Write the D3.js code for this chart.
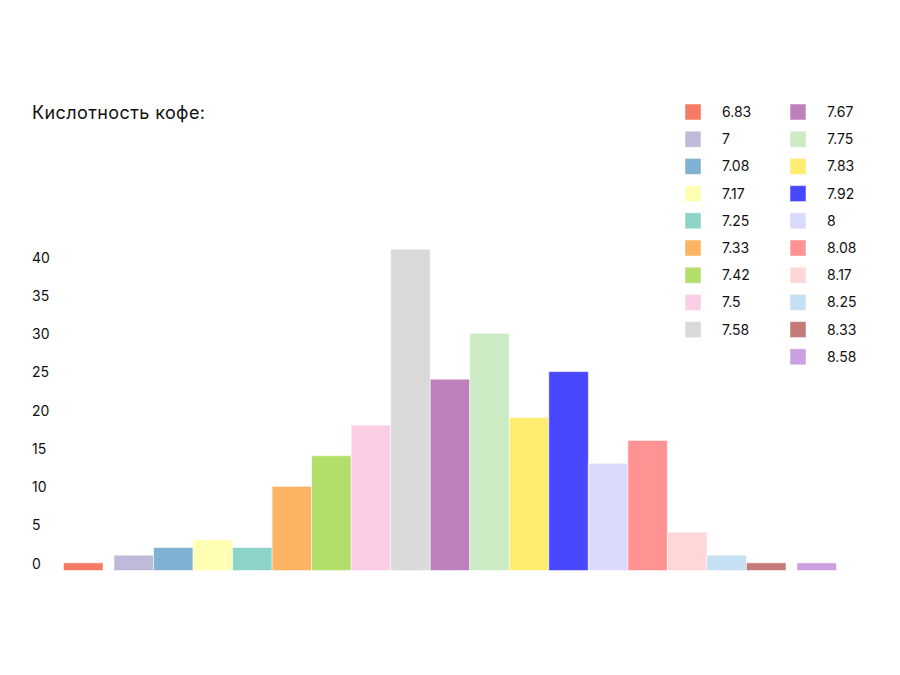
<!DOCTYPE html>
<html>
<head>
<meta charset="utf-8">
<script src="https://cdn.jsdelivr.net/npm/d3@7"></script>
<style>
  body { margin: 0; background: #fff; }
  text { font-family: Inter, "Open Sans", sans-serif; fill: #111; }
</style>
</head>
<body>
<svg id="chart" width="900" height="675"></svg>
<script>
// acidity values (categories) and how many coffees have them
var acidity = ["6.83", "7", "7.08", "7.17", "7.25", "7.33", "7.42", "7.5", "7.58",
               "7.67", "7.75", "7.83", "7.92", "8", "8.08", "8.17", "8.25", "8.33", "8.58"];
var counts = [1, 2, 3, 4, 3, 11, 15, 19, 42, 25, 31, 20, 26, 14, 17, 5, 2, 1, 1];
var colors = ["#f67a64", "#bebada", "#80b1d3", "#ffffb3", "#8dd3c7", "#fdb462", "#b3de69",
              "#fccde5", "#d9d9d9", "#bc80bd", "#ccebc5", "#ffed6f", "#4848ff", "#dadaff",
              "#ff9393", "#ffd7d9", "#c5e0f2", "#c57a7a", "#cba0e0"];
var yTicks = [0, 5, 10, 15, 20, 25, 30, 35, 40];

var svg = d3.select("#chart");

// title
svg.append("text")
  .attr("x", 32)
  .attr("y", 119)
  .style("font-size", "18px")
  .style("letter-spacing", "0.4px")
  .text("Кислотность кофе:");

// scales
var x = d3.scaleBand().domain(acidity).range([74.5, 825.5]).paddingInner(0);
var edgeGap = 11; // first and last bar sit a little apart from the rest
var y = d3.scaleLinear().domain([0, 40]).range([570.5, 264.5]);

function barX(d, i) {
  var shift = i === 0 ? -edgeGap : (i === acidity.length - 1 ? edgeGap : 0);
  return x(d) + shift;
}

// y axis labels only
svg.append("g")
  .selectAll("text")
  .data(yTicks)
  .enter()
  .append("text")
  .attr("x", 32)
  .attr("y", d => y(d) - 2)
  .style("font-size", "14px")
  .text(d => d);

// bars
svg.append("g")
  .selectAll("rect")
  .data(acidity)
  .enter()
  .append("rect")
  .attr("x", (d, i) => barX(d, i))
  .attr("y", (d, i) => y(counts[i]))
  .attr("width", x.bandwidth())
  .attr("height", (d, i) => y(0) - y(counts[i]))
  .style("fill", (d, i) => colors[i])
  .style("stroke", "#fff")
  .style("stroke-opacity", 0.5)
  .style("stroke-width", 1);

// legend, two columns: 9 items on the left, the rest on the right
var firstCol = 9, rowStep = 27.2;
var legend = svg.append("g");
var item = legend.selectAll("g")
  .data(acidity)
  .enter()
  .append("g")
  .attr("transform", (d, i) => {
    var col = i < firstCol ? 0 : 1;
    var row = i < firstCol ? i : i - firstCol;
    return "translate(" + (685 + col * 105) + "," + (112 + row * rowStep) + ")";
  });

item.append("rect")
  .attr("x", 0)
  .attr("y", -8)
  .attr("width", 16)
  .attr("height", 16)
  .style("fill", (d, i) => colors[i])
  .style("stroke", "#fff")
  .style("stroke-opacity", 0.5);

item.append("text")
  .attr("x", 37)
  .attr("y", 5)
  .style("font-size", "14px")
  .text(d => d);
</script>
</body>
</html>
